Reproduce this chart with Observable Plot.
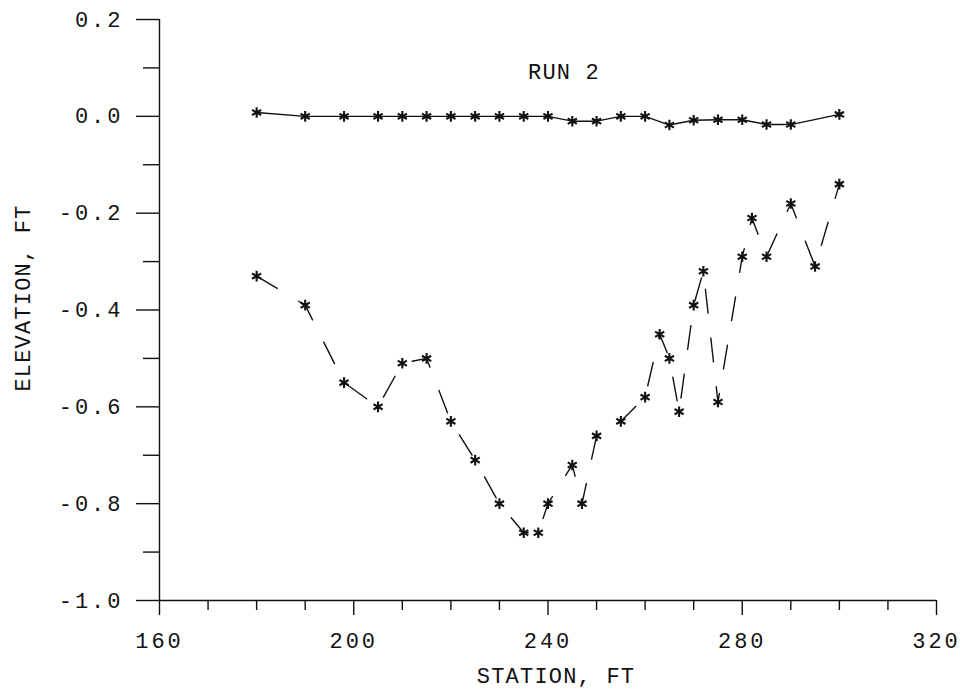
<!DOCTYPE html>
<html>
<head>
<meta charset="utf-8">
<script src="https://cdn.jsdelivr.net/npm/d3@7"></script>
<script src="https://cdn.jsdelivr.net/npm/@observablehq/plot@0.6"></script>
<style>
  html, body { margin: 0; padding: 0; background: #fff; }
  #chart svg text { letter-spacing: 1.2px; }
  #chart svg g[aria-label$="tick label"] text { letter-spacing: 3px; }
</style>
</head>
<body>
<div id="chart"></div>
<script>
// Bed profile survey, run 2: station (ft) vs elevation (ft)
const topStation = [180, 190, 198, 205, 210, 215, 220, 225, 230, 235, 240, 245, 250, 255, 260, 265, 270, 275, 280, 285, 290, 300];
const topElev    = [0.008, 0, 0, 0, 0, 0, 0, 0, 0, 0, 0, -0.010, -0.010, 0, 0, -0.018, -0.008, -0.007, -0.007, -0.017, -0.017, 0.004];

const lowStation = [180, 190, 198, 205, 210, 215, 220, 225, 230, 235, 238, 240, 245, 247, 250, 255, 260, 263, 265, 267, 270, 272, 275, 280, 282, 285, 290, 295, 300];
const lowElev    = [-0.33, -0.39, -0.55, -0.60, -0.51, -0.50, -0.63, -0.71, -0.80, -0.86, -0.86, -0.80, -0.72, -0.80, -0.66, -0.63, -0.58, -0.45, -0.50, -0.61, -0.39, -0.32, -0.59, -0.29, -0.21, -0.29, -0.18, -0.31, -0.14];

const xMajor = [160, 200, 240, 280, 320];
const xMinor = [170, 180, 190, 210, 220, 230, 250, 260, 270, 290, 300, 310];
const yMajor = [-1.0, -0.8, -0.6, -0.4, -0.2, 0.0, 0.2];
const yMinor = [-0.9, -0.7, -0.5, -0.3, -0.1, 0.1];

const runLabel = "RUN 2";
const xTitle = "STATION, FT";
const yTitle = "ELEVATION, FT";

const topRows = topStation.map((s, i) => ({station: s, elev: topElev[i]}));
const lowRows = lowStation.map((s, i) => ({station: s, elev: lowElev[i]}));

const ink = "#111";

const chart = Plot.plot({
  width: 960,
  height: 690,
  marginLeft: 159,
  marginRight: 24,
  marginTop: 19,
  marginBottom: 90,
  style: {fontFamily: "'Liberation Mono', 'DejaVu Sans Mono', monospace", fontSize: "22px", color: ink, background: "#fff"},
  x: {domain: [160, 320]},
  y: {domain: [-1.0, 0.2]},
  marks: [
    // axis lines
    Plot.ruleX([160], {stroke: ink, strokeWidth: 1.4}),
    Plot.ruleY([-1.0], {stroke: ink, strokeWidth: 1.4}),
    // y axis: long major ticks with labels, shorter minor ticks
    Plot.axisY({ticks: yMajor, tickSize: 23, tickPadding: 13, tickFormat: d => d.toFixed(1), label: null, strokeWidth: 1.4, stroke: ink}),
    Plot.axisY({ticks: yMinor, tickSize: 16, tickFormat: () => "", label: null, strokeWidth: 1.4, stroke: ink}),
    // x axis
    Plot.axisX({ticks: xMajor, tickSize: 15, tickPadding: 17, tickFormat: d => String(d), label: null, strokeWidth: 1.4, stroke: ink}),
    Plot.axisX({ticks: xMinor, tickSize: 10, tickFormat: () => "", label: null, strokeWidth: 1.4, stroke: ink}),
    // surveyed profiles
    Plot.line(topRows, {x: "station", y: "elev", stroke: ink, strokeWidth: 1.4}),
    Plot.line(lowRows, {x: "station", y: "elev", stroke: ink, strokeWidth: 1.4, strokeDasharray: "24,25"}),
    Plot.dot(topRows, {x: "station", y: "elev", symbol: "asterisk", r: 5, stroke: ink, strokeWidth: 2.1}),
    Plot.dot(lowRows, {x: "station", y: "elev", symbol: "asterisk", r: 5, stroke: ink, strokeWidth: 2.1}),
    // titles
    Plot.text([runLabel], {frameAnchor: "top", lineAnchor: "middle", dx: 16, dy: 52, fill: ink}),
    Plot.text([xTitle], {frameAnchor: "bottom", lineAnchor: "middle", dx: 8, dy: 75, fill: ink}),
    Plot.text([yTitle], {frameAnchor: "left", textAnchor: "middle", lineAnchor: "middle", dx: -137, dy: -12, rotate: -90, fill: ink})
  ]
});

document.getElementById("chart").appendChild(chart);
</script>
</body>
</html>
